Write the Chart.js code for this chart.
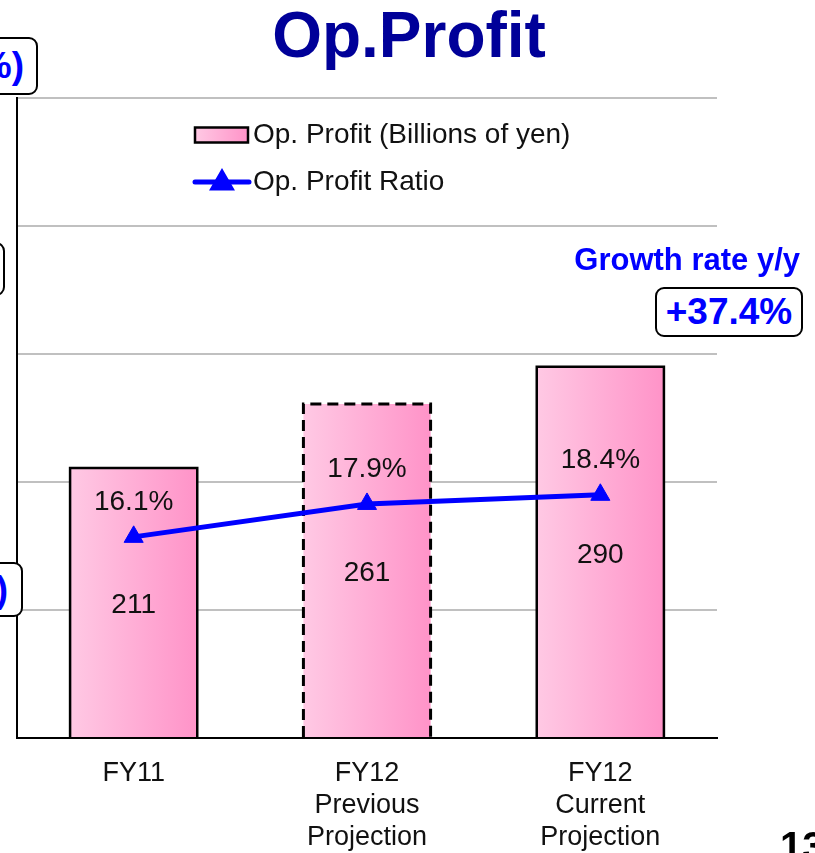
<!DOCTYPE html>
<html>
<head>
<meta charset="utf-8">
<script src="https://cdn.jsdelivr.net/npm/chart.js@4"></script>
<style>
    html, body { margin: 0; padding: 0; background: #fff; overflow: hidden; }
    body { width: 815px; height: 853px; position: relative; font-family: "Liberation Sans", Arial, sans-serif; }
    #wrap { position: absolute; left: 0; top: 0; width: 815px; height: 853px; }
    .txt { position: absolute; white-space: nowrap; }
    .title { left: 0; width: 818px; top: 3px; line-height: 64px; font-size: 64px; font-weight: bold; color: #000099; text-align: center; }
    .growth { right: 15px; top: 240px; line-height: 40px; font-size: 31px; font-weight: bold; color: #0000ff; }
    .box { position: absolute; box-sizing: border-box; border: 2px solid #000; border-radius: 9px; background: #fff;
           font-weight: bold; color: #0000ff; font-size: 37px; white-space: nowrap; }
    .pageNo { left: 780px; top: 826px; line-height: 40px; font-size: 40px; font-weight: bold; color: #000; }
</style>
</head>
<body>
<div id="wrap"><canvas id="chart"></canvas></div>
<div class="txt title">Op.Profit</div>
<div class="box" style="left:-62px; top:37px; width:100px; height:58px; line-height:54px; text-align:right; padding-right:12px;">(%)</div>
<div class="box" style="left:-95px; top:242px; width:100px; height:54px;"></div>
<div class="box" style="left:-77px; top:562px; width:100px; height:55px; line-height:51px; text-align:right; padding-right:13px;">)</div>
<div class="txt growth">Growth rate y/y</div>
<div class="box" style="left:655px; top:287px; width:148px; height:50px; line-height:46px; text-align:center;">+37.4%</div>
<div class="txt pageNo">13</div>
<script>
// ---- data ----
const categories = [['FY11'], ['FY12', 'Previous', 'Projection'], ['FY12', 'Current', 'Projection']];
const profitValues = [211, 261, 290];       // billions of yen
const ratioValues = [16.1, 17.9, 18.4];     // %
const profitLabel = 'Op. Profit (Billions of yen)';
const ratioLabel = 'Op. Profit Ratio';

// ---- styles ----
const FONT = '"Liberation Sans", Arial, sans-serif';
const BLUE = '#0000ff';
const PINK_L = '#ffc9e4', PINK_R = '#ff93c8';
const BAR_PCT = 0.545;
const barDash = [[], [11, 6], []];   // middle bar = previous projection, dashed outline

function pinkGradient(ctx, x0, x1) {
    const g = ctx.createLinearGradient(x0, 0, x1, 0);
    g.addColorStop(0, PINK_L);
    g.addColorStop(1, PINK_R);
    return g;
}

const overlay = {
    id: 'overlay',
    afterDatasetDraw(chart, args) {
        if (args.index !== 0) return;
        // bar outlines (bottom edge sits on the axis)
        const ctx = chart.ctx;
        chart.getDatasetMeta(0).data.forEach((el, i) => {
            const { x, y, base, width } = el.getProps(['x', 'y', 'base', 'width'], true);
            const l = x - width / 2, r = x + width / 2;
            ctx.save();
            ctx.strokeStyle = '#000';
            ctx.lineWidth = barDash[i].length ? 3 : 2.5;
            ctx.lineJoin = 'miter';
            ctx.setLineDash(barDash[i]);
            ctx.beginPath();
            ctx.moveTo(l, base);
            ctx.lineTo(l, y);
            ctx.lineTo(r, y);
            ctx.lineTo(r, base);
            ctx.stroke();
            ctx.restore();
        });
    },
    afterDatasetsDraw(chart) {
        const ctx = chart.ctx;
        ctx.save();
        ctx.font = '28px ' + FONT;
        ctx.fillStyle = '#111';
        ctx.textAlign = 'center';
        ctx.textBaseline = 'middle';
        chart.getDatasetMeta(0).data.forEach((el, i) => {
            ctx.fillText(String(profitValues[i]), el.x, (el.y + el.base) / 2 + 3);
        });
        chart.getDatasetMeta(1).data.forEach((el, i) => {
            ctx.fillText(ratioValues[i].toFixed(1) + '%', el.x, el.y - 35);
        });

        // legend
        const lx = 195, ly1 = 135, ly2 = 182;
        ctx.fillStyle = pinkGradient(ctx, lx, lx + 53);
        ctx.fillRect(lx, ly1 - 7.5, 53, 15);
        ctx.strokeStyle = '#000';
        ctx.lineWidth = 2.5;
        ctx.strokeRect(lx, ly1 - 7.5, 53, 15);

        ctx.strokeStyle = BLUE;
        ctx.lineWidth = 5;
        ctx.lineCap = 'round';
        ctx.beginPath();
        ctx.moveTo(lx, ly2);
        ctx.lineTo(lx + 54, ly2);
        ctx.stroke();
        ctx.fillStyle = BLUE;
        ctx.beginPath();
        Chart.helpers.drawPoint(ctx, { pointStyle: 'triangle', radius: 10, borderWidth: 2, rotation: 0 }, lx + 27, ly2 + 1);
        ctx.fill();

        ctx.fillStyle = '#111';
        ctx.textAlign = 'left';
        ctx.font = '28px ' + FONT;
        ctx.fillText(profitLabel, lx + 58, ly1);
        ctx.fillText(ratioLabel, lx + 58, ly2);
        ctx.restore();
    }
};

new Chart(document.getElementById('chart').getContext('2d'), {
    data: {
        labels: categories,
        datasets: [
            {
                type: 'bar',
                label: profitLabel,
                data: profitValues,
                yAxisID: 'y',
                order: 1,
                borderWidth: 0,
                barPercentage: BAR_PCT,
                categoryPercentage: 1,
                backgroundColor: (c) => {
                    const xs = c.chart.scales.x;
                    if (!xs || c.dataIndex === undefined) return PINK_L;
                    const cx = xs.getPixelForValue(c.dataIndex);
                    const half = xs.width / categories.length * BAR_PCT / 2;
                    if (!isFinite(cx) || !isFinite(half) || half <= 0) return PINK_L;
                    return pinkGradient(c.chart.ctx, cx - half, cx + half);
                }
            },
            {
                type: 'line',
                label: ratioLabel,
                data: ratioValues,
                yAxisID: 'y2',
                order: 0,
                borderColor: BLUE,
                borderWidth: 5,
                tension: 0,
                pointStyle: 'triangle',
                pointRadius: 11,
                pointBorderWidth: 1,
                pointBackgroundColor: BLUE,
                pointBorderColor: BLUE
            }
        ]
    },
    options: {
        responsive: true,
        maintainAspectRatio: false,
        animation: false,
        layout: { padding: { left: 17, right: 98, top: 98, bottom: 0 } },
        plugins: { legend: { display: false }, tooltip: { enabled: false } },
        scales: {
            x: {
                grid: { display: false, drawTicks: false },
                border: { display: true, color: '#000', width: 2 },
                ticks: { color: '#111', padding: 20, font: { family: FONT, size: 27, lineHeight: '32px' }, maxRotation: 0, autoSkip: false },
                afterFit: (s) => { s.height = 115; }
            },
            y: {
                min: 0, max: 500,
                ticks: { display: false, stepSize: 100 },
                grid: { drawTicks: false, lineWidth: 2, color: (c) => c.tick && c.tick.value === 0 ? 'rgba(0,0,0,0)' : '#c0c0c0' },
                border: { display: true, color: '#000', width: 2 },
                afterFit: (s) => { s.width = 0; }
            },
            y2: {
                display: false,
                min: 5.1, max: 40.1
            }
        }
    },
    plugins: [overlay]
});
</script>
</body>
</html>
